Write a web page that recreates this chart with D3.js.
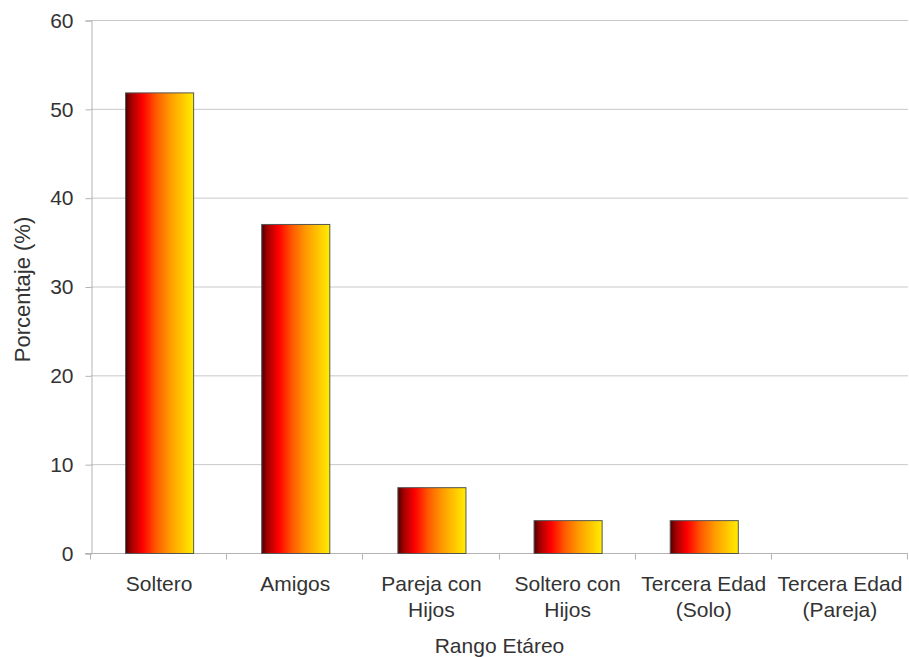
<!DOCTYPE html>
<html>
<head>
<meta charset="utf-8">
<script src="https://cdn.jsdelivr.net/npm/d3@7/dist/d3.min.js"></script>
<style>
  html, body { margin: 0; padding: 0; background: #fff; }
  text { font-family: "Liberation Sans", Arial, sans-serif; fill: #333; }
</style>
</head>
<body>
<svg id="chart" width="909" height="657"></svg>
<script>
// Distribución por tipo de grupo (porcentaje)
const categories = [
  ["Soltero"],
  ["Amigos"],
  ["Pareja con", "Hijos"],
  ["Soltero con", "Hijos"],
  ["Tercera Edad", "(Solo)"],
  ["Tercera Edad", "(Pareja)"]
];
const values = [51.85, 37.04, 7.41, 3.70, 3.70, 0];
const yTicks = [0, 10, 20, 30, 40, 50, 60];
const xTitle = "Rango Etáreo";
const yTitle = "Porcentaje (%)";

const svg = d3.select("#chart");
const margin = { left: 91, right: 1, top: 20, bottom: 104 };
const W = 909, H = 657;
const FONT = "21px";

const x = d3.scaleBand()
  .domain(d3.range(categories.length))
  .range([margin.left, W - margin.right])
  .paddingInner(0.5).paddingOuter(0.25);

const y = d3.scaleLinear().domain([0, 60]).range([H - margin.bottom, margin.top]);

// Horizontal gradient for the bars
const grad = svg.append("defs").append("linearGradient")
  .attr("id", "barGrad").attr("x1", "0%").attr("x2", "100%").attr("y1", "0%").attr("y2", "0%");
[["0%", "#4a0000"], ["8%", "#a00000"], ["25%", "#ff0000"], ["45%", "#ff5a00"],
 ["65%", "#ff9a00"], ["100%", "#ffee00"]]
  .forEach(([o, c]) => grad.append("stop").attr("offset", o).attr("stop-color", c));

// Gridlines
svg.append("g")
  .selectAll("line").data(yTicks.filter(d => d > 0)).join("line")
  .attr("x1", margin.left).attr("x2", W - margin.right)
  .attr("y1", d => y(d) + 0.5).attr("y2", d => y(d) + 0.5)
  .attr("stroke", "#c8c8c8").attr("stroke-width", 1);

// Y axis
const yAxis = svg.append("g")
  .attr("transform", `translate(${margin.left + 0.5},0.5)`)
  .call(d3.axisLeft(y).tickValues(yTicks).tickSize(6).tickPadding(12));
yAxis.select(".domain").attr("stroke", "#b4b4b4");
yAxis.selectAll(".tick line").attr("stroke", "#b4b4b4");
yAxis.selectAll(".tick text")
  .style("font-family", "'Liberation Sans', Arial, sans-serif")
  .style("font-size", FONT).attr("fill", "#333");

// X axis baseline and category separators
const xAxisG = svg.append("g").attr("transform", `translate(0,${y(0) + 0.5})`);
xAxisG.append("line")
  .attr("x1", margin.left - 6).attr("x2", W - margin.right)
  .attr("stroke", "#b4b4b4");
const step = x.step();
const bounds = d3.range(categories.length + 1).map(i => margin.left + i * step);
xAxisG.selectAll("line.sep").data(bounds).join("line").attr("class", "sep")
  .attr("x1", d => Math.round(d) - 0.5).attr("x2", d => Math.round(d) - 0.5)
  .attr("y1", 0).attr("y2", 6)
  .attr("stroke", "#b4b4b4");

// Bars
svg.append("g").selectAll("rect")
  .data(values.map((v, i) => ({ v, i })).filter(d => d.v > 0))
  .join("rect")
  .attr("x", d => x(d.i) + 0.5)
  .attr("y", d => y(d.v) + 0.5)
  .attr("width", x.bandwidth())
  .attr("height", d => y(0) - y(d.v))
  .attr("fill", "url(#barGrad)")
  .attr("stroke", "#555").attr("stroke-width", 1);

// Category labels
const labels = svg.append("g");
categories.forEach((lines, i) => {
  const cx = x(i) + x.bandwidth() / 2;
  lines.forEach((t, j) => {
    labels.append("text")
      .attr("x", cx).attr("y", 591 + j * 26)
      .attr("text-anchor", "middle")
      .style("font-size", FONT)
      .attr("fill", "#333")
      .text(t);
  });
});

// Axis titles
svg.append("text")
  .attr("x", (margin.left + W - margin.right) / 2).attr("y", 653)
  .attr("text-anchor", "middle").style("font-size", FONT).attr("fill", "#333")
  .text(xTitle);

svg.append("text")
  .attr("transform", `translate(30,${(y(0) + y(60)) / 2 + 3}) rotate(-90)`)
  .attr("text-anchor", "middle").style("font-size", "22px").attr("fill", "#111")
  .attr("xml:space", "preserve")
  .text(yTitle);
</script>
</body>
</html>
